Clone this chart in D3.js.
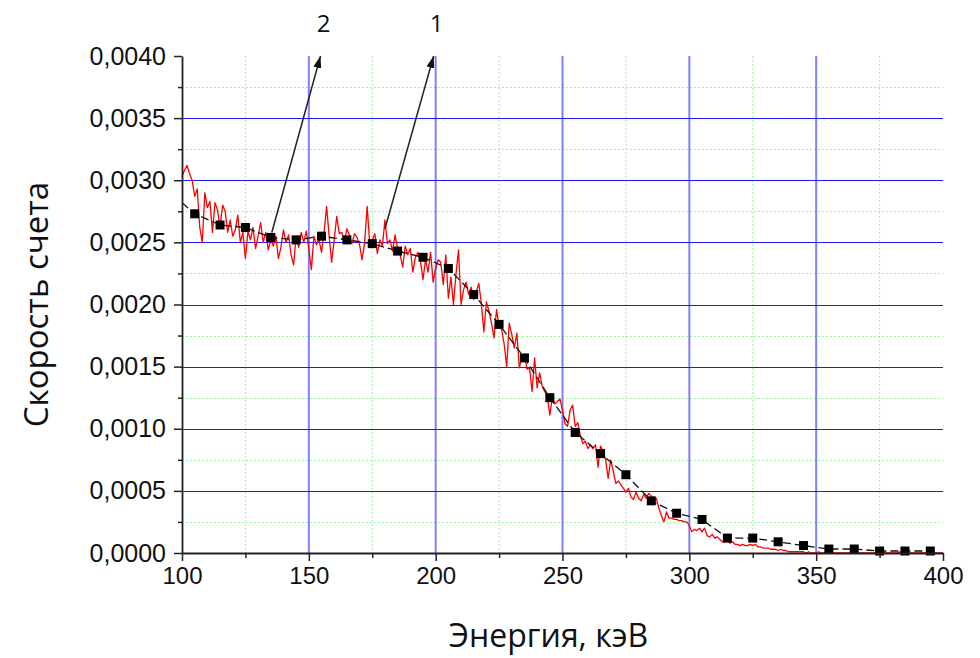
<!DOCTYPE html>
<html>
<head>
<meta charset="utf-8">
<script src="https://cdn.jsdelivr.net/npm/d3@7"></script>
<style>
  body { margin: 0; background: #fff; }
  svg { display: block; }
</style>
</head>
<body>
<svg id="chart"></svg>
<script>
// energy channels, keV (one per keV)
const spectrumEnergy = d3.range(100, 401, 1);
// measured count rate (curve 1, red)
const spectrumRate = [
  303e-5,308e-5,312e-5,305e-5,300e-5,287e-5,293e-5,262e-5,250e-5,290e-5,
  278e-5,283e-5,258e-5,282e-5,276e-5,262e-5,280e-5,275e-5,258e-5,268e-5,
  255e-5,260e-5,272e-5,250e-5,258e-5,237e-5,259e-5,252e-5,262e-5,245e-5,
  255e-5,266e-5,250e-5,258e-5,244e-5,252e-5,247e-5,255e-5,237e-5,246e-5,
  260e-5,250e-5,256e-5,240e-5,232e-5,255e-5,246e-5,258e-5,250e-5,259e-5,
  245e-5,228e-5,255e-5,248e-5,252e-5,242e-5,258e-5,279e-5,255e-5,234e-5,
  252e-5,271e-5,257e-5,258e-5,250e-5,261e-5,256e-5,249e-5,257e-5,254e-5,
  248e-5,236e-5,250e-5,279e-5,249e-5,252e-5,257e-5,241e-5,252e-5,247e-5,
  268e-5,249e-5,252e-5,243e-5,256e-5,245e-5,240e-5,230e-5,247e-5,240e-5,
  245e-5,226e-5,238e-5,242e-5,235e-5,220e-5,236e-5,226e-5,242e-5,218e-5,
  229e-5,236e-5,234e-5,216e-5,240e-5,205e-5,222e-5,200e-5,224e-5,244e-5,
  200e-5,212e-5,218e-5,208e-5,214e-5,204e-5,210e-5,217e-5,201e-5,178e-5,
  202e-5,195e-5,185e-5,173e-5,196e-5,182e-5,180e-5,168e-5,150e-5,185e-5,
  176e-5,165e-5,177e-5,149e-5,158e-5,160e-5,148e-5,149e-5,130e-5,157e-5,
  133e-5,145e-5,134e-5,130e-5,126e-5,111e-5,125e-5,120e-5,122e-5,124e-5,
  115e-5,104e-5,102e-5,115e-5,119e-5,102e-5,105e-5,95e-5,88e-5,90e-5,
  84e-5,87e-5,84e-5,87e-5,69e-5,86e-5,82e-5,75e-5,60e-5,75e-5,
  66e-5,56e-5,58e-5,55e-5,52e-5,49e-5,52e-5,45e-5,43e-5,49e-5,
  44e-5,42e-5,47e-5,44e-5,48e-5,46e-5,42e-5,44e-5,36e-5,30e-5,
  25e-5,33e-5,28e-5,28e-5,27e-5,27e-5,26e-5,26e-5,25e-5,25e-5,
  22e-5,17e-5,19e-5,18e-5,20e-5,17e-5,20e-5,14e-5,13e-5,15e-5,
  12e-5,13e-5,11e-5,9e-5,9e-5,10e-5,8e-5,9e-5,7e-5,7e-5,
  6e-5,7e-5,6e-5,6e-5,7e-5,6e-5,7e-5,5e-5,5e-5,4e-5,
  4e-5,4e-5,3e-5,3e-5,3e-5,2e-5,3e-5,2e-5,2e-5,1e-5,
  1e-5,1e-5,1e-5,1e-5,1e-5,1e-5,0,1e-5,0,0,
  0,1e-5,0,0,0,0,1e-5,0,0,0,
  0,0,0,0,1e-5,0,0,0,0,0,
  0,0,0,0,0,0,0,0,0,0,
  0,0,0,1e-5,0,0,0,0,0,0,
  0,0,0,0,0,0,0,0,0,0,
  0
];

// calculated points (curve 2, black squares)
const pointEnergy = [105,115,125,135,145,155,165,175,185,195,205,215,225,235,245,
                     255,265,275,285,295,305,315,325,335,345,355,365,375,385,395];
const pointRate = [273e-5,264e-5,262e-5,254e-5,252e-5,255e-5,252e-5,249e-5,243e-5,238e-5,
                   229e-5,208e-5,184e-5,157e-5,125e-5,97e-5,80e-5,63e-5,42e-5,32e-5,
                   27e-5,12e-5,12e-5,9e-5,6e-5,3.2e-5,3.2e-5,1.6e-5,1.6e-5,1.6e-5];
// dashed line through the points starts at the axis
const lineStartEnergy = 100;
const lineStartRate = 282e-5;

const xTicks = [100, 150, 200, 250, 300, 350, 400];
const xMinorTicks = [125, 175, 225, 275, 325, 375];
const yTicks = [0, 0.0005, 0.001, 0.0015, 0.002, 0.0025, 0.003, 0.0035, 0.004];
const yMinorTicks = [0.00025, 0.00075, 0.00125, 0.00175, 0.00225, 0.00275, 0.00325, 0.00375];

// arrow annotations: label, tail (energy, rate), tip (energy, rate)
const arrowLabels = ["2", "1"];
const arrowTail = [[135.4, 0.00258], [180.0, 0.00261]];
const arrowTip = [[154.6, 0.0040], [199.2, 0.0040]];

const config = {
  width: 980, height: 658,
  margin: { top: 56, right: 37, bottom: 105, left: 182 }
};

const svg = d3.select("#chart")
  .attr("width", config.width)
  .attr("height", config.height);

const innerW = config.width - config.margin.left - config.margin.right;
const innerH = config.height - config.margin.top - config.margin.bottom;

const chart = svg.append("g")
  .attr("transform", `translate(${config.margin.left},${config.margin.top})`);

const x = d3.scaleLinear().domain([100, 400]).range([0, innerW]);
const y = d3.scaleLinear().domain([0, 0.004]).range([innerH, 0]);

// minor grid (green dotted)
chart.append("g").selectAll("line.vminor")
  .data(xMinorTicks)
  .join("line")
  .attr("x1", d => x(d)).attr("x2", d => x(d))
  .attr("y1", 0).attr("y2", innerH)
  .attr("stroke", "#8ee88e")
  .attr("stroke-dasharray", "1.5,2.5");

chart.append("g").selectAll("line.hminor")
  .data(yMinorTicks)
  .join("line")
  .attr("x1", 0).attr("x2", innerW)
  .attr("y1", d => Math.round(y(d)) + 0.5).attr("y2", d => Math.round(y(d)) + 0.5)
  .attr("stroke", "#8ee88e")
  .attr("stroke-dasharray", "1.5,2.5");

// major grid (blue)
chart.append("g").selectAll("line")
  .data(xTicks.slice(1, -1))
  .join("line")
  .attr("x1", d => x(d)).attr("x2", d => x(d))
  .attr("y1", 0).attr("y2", innerH)
  .attr("stroke", "#0000ff")
  .attr("stroke-opacity", 0.5)
  .attr("stroke-width", 2);

chart.append("g").selectAll("line")
  .data(yTicks.slice(1, -1))
  .join("line")
  .attr("x1", 0).attr("x2", innerW)
  .attr("y1", d => Math.round(y(d)) + 0.5).attr("y2", d => Math.round(y(d)) + 0.5)
  .attr("stroke", "#1a1aff")
  .attr("stroke-width", 1.4)
  .attr("shape-rendering", "crispEdges");

// curve 1
const spectrum = spectrumEnergy.map((e, i) => [e, spectrumRate[i]]);
chart.append("path")
  .datum(spectrum)
  .attr("fill", "none")
  .attr("stroke", "#ff0000")
  .attr("stroke-width", 1.3)
  .attr("stroke-linejoin", "round")
  .attr("d", d3.line().x(d => x(d[0])).y(d => y(d[1])));

// curve 2
const points = pointEnergy.map((e, i) => [e, pointRate[i]]);
chart.append("path")
  .datum([[lineStartEnergy, lineStartRate], ...points])
  .attr("fill", "none")
  .attr("stroke", "#111")
  .attr("stroke-width", 1.3)
  .attr("stroke-dasharray", "8,4")
  .attr("d", d3.line().x(d => x(d[0])).y(d => y(d[1])));

const sq = 9;
chart.append("g").selectAll("rect")
  .data(points)
  .join("rect")
  .attr("x", d => x(d[0]) - sq / 2)
  .attr("y", d => y(d[1]) - sq / 2)
  .attr("width", sq).attr("height", sq)
  .attr("fill", "#000");

// axes
const fmt = v => d3.format(".4f")(v).replace(".", ",");

const yAxis = chart.append("g")
  .call(d3.axisLeft(y).tickValues(yTicks).tickFormat(fmt).tickSize(8).tickPadding(8).tickSizeOuter(0));
chart.append("g")
  .call(d3.axisLeft(y).tickValues(yMinorTicks).tickFormat("").tickSize(4).tickSizeOuter(0))
  .call(g => g.select(".domain").remove());

const xAxis = chart.append("g")
  .attr("transform", `translate(0,${innerH})`)
  .call(d3.axisBottom(x).tickValues(xTicks).tickFormat(d3.format("d")).tickSize(8).tickPadding(6).tickSizeOuter(0));
chart.append("g")
  .attr("transform", `translate(0,${innerH})`)
  .call(d3.axisBottom(x).tickValues(xMinorTicks).tickFormat("").tickSize(5).tickSizeOuter(0))
  .call(g => g.select(".domain").remove());

chart.selectAll(".domain").attr("stroke", "#222").attr("stroke-width", 1.8);
chart.selectAll(".tick line").attr("stroke", "#222").attr("stroke-width", 1.5);
yAxis.selectAll("text").style("font", "25px 'Liberation Sans', Arial, sans-serif").attr("fill", "#111");
xAxis.selectAll("text").style("font", "24px 'Liberation Sans', Arial, sans-serif").attr("fill", "#111");

// axis titles
svg.append("text")
  .attr("x", config.margin.left + innerW / 2 - 14)
  .attr("y", 647)
  .attr("text-anchor", "middle")
  .style("font", "32px 'Open Sans', sans-serif")
  .attr("fill", "#111")
  .text("Энергия, кэВ");

svg.append("text")
  .attr("transform", `translate(48,${config.margin.top + innerH / 2}) rotate(-90)`)
  .attr("text-anchor", "middle")
  .style("font", "33px 'Open Sans', sans-serif")
  .attr("fill", "#111")
  .text("Скорость счета");

// arrows
svg.append("defs").append("marker")
  .attr("id", "head")
  .attr("viewBox", "0 0 12 8")
  .attr("refX", 12).attr("refY", 4)
  .attr("markerWidth", 12).attr("markerHeight", 8)
  .attr("markerUnits", "userSpaceOnUse")
  .attr("orient", "auto")
  .append("path")
  .attr("d", "M0,0 L12,4 L0,8 Z")
  .attr("fill", "#111");

arrowLabels.forEach((lab, i) => {
  chart.append("line")
    .attr("x1", x(arrowTail[i][0])).attr("y1", y(arrowTail[i][1]))
    .attr("x2", x(arrowTip[i][0])).attr("y2", y(arrowTip[i][1]))
    .attr("stroke", "#222")
    .attr("stroke-width", 1.5)
    .attr("marker-end", "url(#head)");
  chart.append("text")
    .attr("x", x(arrowTip[i][0]) + 3)
    .attr("y", -24)
    .attr("text-anchor", "middle")
    .style("font", "24px 'Open Sans', sans-serif")
    .attr("fill", "#111")
    .text(lab);
});
</script>
</body>
</html>
